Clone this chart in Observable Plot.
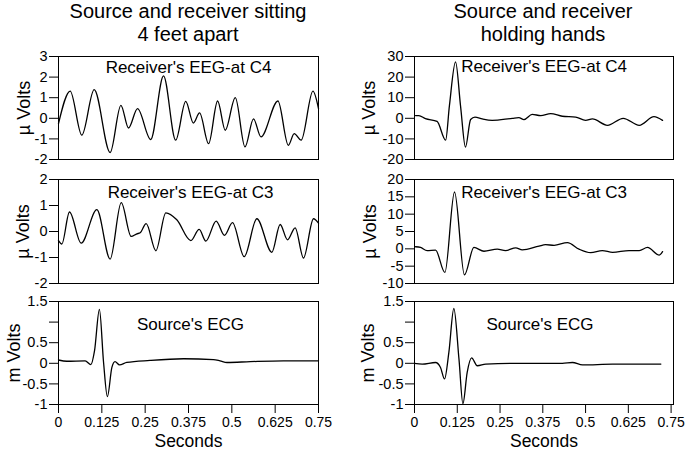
<!DOCTYPE html>
<html><head><meta charset="utf-8">
<script src="https://cdn.jsdelivr.net/npm/d3@7"></script>
<script src="https://cdn.jsdelivr.net/npm/@observablehq/plot@0.6"></script>
<style>
body{margin:0;background:#fff;}
#chart{position:relative;width:688px;height:452px;background:#fff;font-family:"Liberation Sans",Arial,sans-serif;color:#000;overflow:hidden}
.title{position:absolute;top:0;font-size:20px;line-height:23.4px;text-align:center;white-space:nowrap}
</style></head>
<body><div id="chart">
<div class="title" style="left:28px;width:320px">Source and receiver sitting<br>4 feet apart</div>
<div class="title" style="left:383px;width:320px">Source and receiver<br>holding hands</div>
</div>
<script>
// ---- data (seconds, value) ----
const sitC4T = [0, 0.0337, 0.0673, 0.1029, 0.149, 0.180, 0.202, 0.228, 0.266, 0.303, 0.338, 0.367, 0.389, 0.407, 0.433, 0.459, 0.481, 0.510, 0.538, 0.5625, 0.584, 0.633, 0.663, 0.680, 0.700, 0.734, 0.75];
const sitC4V = [-0.26, 1.32, -0.82, 1.39, -1.66, 0.63, -0.47, 0.47, -1.03, 2.06, -1.06, 0.82, -0.23, 0.26, -1.23, 0.84, -0.58, 1.0, -1.39, -0.03, -0.9, 0.84, -1.31, -0.74, -1.06, 1.32, 0.47];

const sitC3T = [0, 0.0096, 0.0317, 0.0654, 0.1106, 0.149, 0.181, 0.2096, 0.226, 0.2356, 0.2529, 0.2808, 0.3096, 0.3413, 0.3817, 0.4058, 0.425, 0.4548, 0.4788, 0.5019, 0.5356, 0.5721, 0.6154, 0.6394, 0.6606, 0.6827, 0.7067, 0.7356, 0.75];
const sitC3V = [-0.35, -0.48, 0.75, -0.45, 0.84, -1.06, 1.11, -0.19, -0.09, -0.05, 0.30, -0.74, 0.72, 0.45, -0.35, 0.08, -0.37, 0.40, -0.15, 0.34, -0.97, 0.49, -0.8, 0.27, -0.32, 0.14, -1.02, 0.49, 0.32];

const sitEcgT = [0, 0.024, 0.077, 0.0933, 0.104, 0.118, 0.130, 0.141, 0.154, 0.163, 0.176, 0.197, 0.264, 0.361, 0.447, 0.466, 0.486, 0.553, 0.649, 0.75];
const sitEcgV = [0.08, 0.05, 0.06, -0.03, 0.31, 1.31, 0.02, -0.81, -0.1, 0.04, -0.04, 0.02, 0.07, 0.11, 0.09, 0.06, 0.02, 0.04, 0.06, 0.06];

const holdC4T = [0.003, 0.0127, 0.032, 0.066, 0.091, 0.102, 0.120, 0.1347, 0.149, 0.164, 0.1767, 0.198, 0.227, 0.286, 0.305, 0.320, 0.344, 0.369, 0.398, 0.432, 0.471, 0.5, 0.520, 0.564, 0.610, 0.657, 0.700, 0.725];
const holdC4V = [1.3, 1.3, -0.2, -1.5, -10.6, 6, 27.4, 5.8, -14, -0.6, 0.6, -0.3, -1, 0, 0.3, -0.6, 1.9, 1.3, 2.3, 1.0, 0.6, -1, -0.3, -3.4, 0, -3.4, 0.8, -1];

const holdC3T = [0.003, 0.0176, 0.037, 0.0615, 0.0888, 0.117, 0.146, 0.1737, 0.203, 0.242, 0.266, 0.296, 0.315, 0.364, 0.383, 0.408, 0.447, 0.481, 0.515, 0.549, 0.579, 0.627, 0.657, 0.681, 0.715, 0.725];
const holdC3V = [0.6, 0.4, -0.5, -0.4, -6.8, 16.4, -7.5, 0.4, -0.7, -0.1, -0.5, 0.3, -0.3, 0.8, 1.2, 1.0, 1.8, -0.1, -1.1, -0.5, -1.0, -0.5, -0.5, 0.4, -1.8, -0.8];

const holdEcgT = [0, 0.0225, 0.0615, 0.076, 0.0878, 0.1005, 0.115, 0.130, 0.1415, 0.154, 0.1669, 0.1835, 0.208, 0.286, 0.432, 0.4617, 0.491, 0.579, 0.720];
const holdEcgV = [0.0, -0.02, 0.02, -0.1, -0.38, 0.27, 1.33, 0.1, -0.98, -0.22, 0.13, -0.06, -0.02, 0, 0.0, 0.02, -0.04, -0.02, -0.02];

// ---- ticks ----
const xTicks = [0, 0.125, 0.25, 0.375, 0.5, 0.625, 0.75];
const xTickLabels = ["0", "0.125", "0.25", "0.375", "0.5", "0.625", "0.75"];
const sitC4Ticks = [-2, -1, 0, 1, 2, 3];
const sitC4Labels = ["-2", "-1", "0", "1", "2", "3"];
const sitC3Ticks = [-2, -1, 0, 1, 2];
const sitC3Labels = ["-2", "-1", "0", "1", "2"];
const ecgTicks = [-1, -0.5, 0, 0.5, 1, 1.5];
const ecgLabels = ["-1", "-0.5", "0", "0.5", "", "1.5"];
const holdC4Ticks = [-20, -10, 0, 10, 20, 30];
const holdC4Labels = ["-20", "-10", "0", "10", "20", "30"];
const holdC3Ticks = [-10, -5, 0, 5, 10, 15, 20];
const holdC3Labels = ["-10", "-5", "0", "5", "10", "15", "20"];

const labelC4 = "Receiver's EEG-at C4";
const labelC3 = "Receiver's EEG-at C3";
const labelEcg = "Source's ECG";
const microVolts = "\u00b5 Volts";
const milliVolts = "m Volts";
const xTitle = "Seconds";

const FONT = '"Liberation Sans", Arial, Helvetica, sans-serif';
const chart = document.getElementById("chart");

function panel(o) {
  const data = o.T.map((t, i) => ({t, v: o.V[i]}));
  const fmtY = new Map(o.yTicks.map((d, i) => [d, o.yLabels[i]]));
  const fmtX = new Map(xTicks.map((d, i) => [d, xTickLabels[i]]));
  const marks = [
    Plot.axisY(o.yTicks, {tickSize: 9, tickPadding: 2, tickFormat: d => fmtY.get(d), label: null, fontSize: 14.5}),
    Plot.lineY(data, {x: "t", y: "v", curve: "monotone-x", stroke: "black", strokeWidth: 1.3}),
    Plot.frame({stroke: "black", strokeWidth: 1}),
    Plot.text([o.label], {text: d => d, frameAnchor: "top", textAnchor: "middle", lineAnchor: "bottom", dx: o.labelDx || 0, dy: o.labelDy, fontSize: 17}),
    Plot.text([o.yTitle], {text: d => d, frameAnchor: "left", textAnchor: "middle", rotate: -90, lineAnchor: "middle", dx: o.titleDx, fontSize: 18})
  ];
  if (o.bottom) {
    marks.push(
      Plot.axisX(xTicks, {tickSize: 9, tickPadding: 4, tickFormat: d => fmtX.get(d), label: null, fontSize: 14}),
      Plot.text([xTitle], {text: d => d, frameAnchor: "bottom", textAnchor: "middle", lineAnchor: "bottom", dy: 42, fontSize: 17.5})
    );
  }
  const svg = Plot.plot({
    width: o.width, height: o.height,
    marginLeft: o.mL, marginRight: o.mR, marginTop: o.mT, marginBottom: o.mB,
    x: {domain: o.xDomain, axis: null},
    y: {domain: o.yDomain, axis: null},
    style: {fontFamily: FONT, fontSize: "14.5px", color: "black", background: "transparent", overflow: "visible"},
    marks
  });
  svg.style.position = "absolute";
  svg.style.left = o.left + "px";
  svg.style.top = o.top + "px";
  svg.style.maxWidth = "none";
  chart.appendChild(svg);
}

const L = {left: 0, width: 340, mL: 58, mR: 22, xDomain: [0, 0.75]};
const R = {left: 344, width: 344, mL: 70, mR: 15, xDomain: [0, 0.757]};
const row1 = {top: 44, height: 120, mT: 12, mB: 5};
const row2 = {top: 167, height: 120, mT: 12, mB: 4};
const row3 = {top: 289, height: 163, mT: 12, mB: 48, bottom: true};

panel({...L, ...row1, T: sitC4T, V: sitC4V, yDomain: [-2, 3], yTicks: sitC4Ticks, yLabels: sitC4Labels, label: labelC4, labelDy: 16.3, yTitle: microVolts, titleDx: -34});
panel({...L, ...row2, T: sitC3T, V: sitC3V, yDomain: [-2, 2], yTicks: sitC3Ticks, yLabels: sitC3Labels, label: labelC3, labelDy: 18, labelDx: 2, yTitle: microVolts, titleDx: -35});
panel({...L, ...row3, T: sitEcgT, V: sitEcgV, yDomain: [-1, 1.5], yTicks: ecgTicks, yLabels: ecgLabels, label: labelEcg, labelDy: 28.5, labelDx: 2, yTitle: milliVolts, titleDx: -44});
panel({...R, ...row1, T: holdC4T, V: holdC4V, yDomain: [-20, 30], yTicks: holdC4Ticks, yLabels: holdC4Labels, label: labelC4, labelDy: 15.5, yTitle: microVolts, titleDx: -45});
panel({...R, ...row2, T: holdC3T, V: holdC3V, yDomain: [-10, 20], yTicks: holdC3Ticks, yLabels: holdC3Labels, label: labelC3, labelDy: 18, yTitle: microVolts, titleDx: -44.5});
panel({...R, ...row3, T: holdEcgT, V: holdEcgV, yDomain: [-1, 1.5], yTicks: ecgTicks, yLabels: ecgLabels, label: labelEcg, labelDy: 28.5, labelDx: -4, yTitle: milliVolts, titleDx: -46.6});
</script></body></html>
